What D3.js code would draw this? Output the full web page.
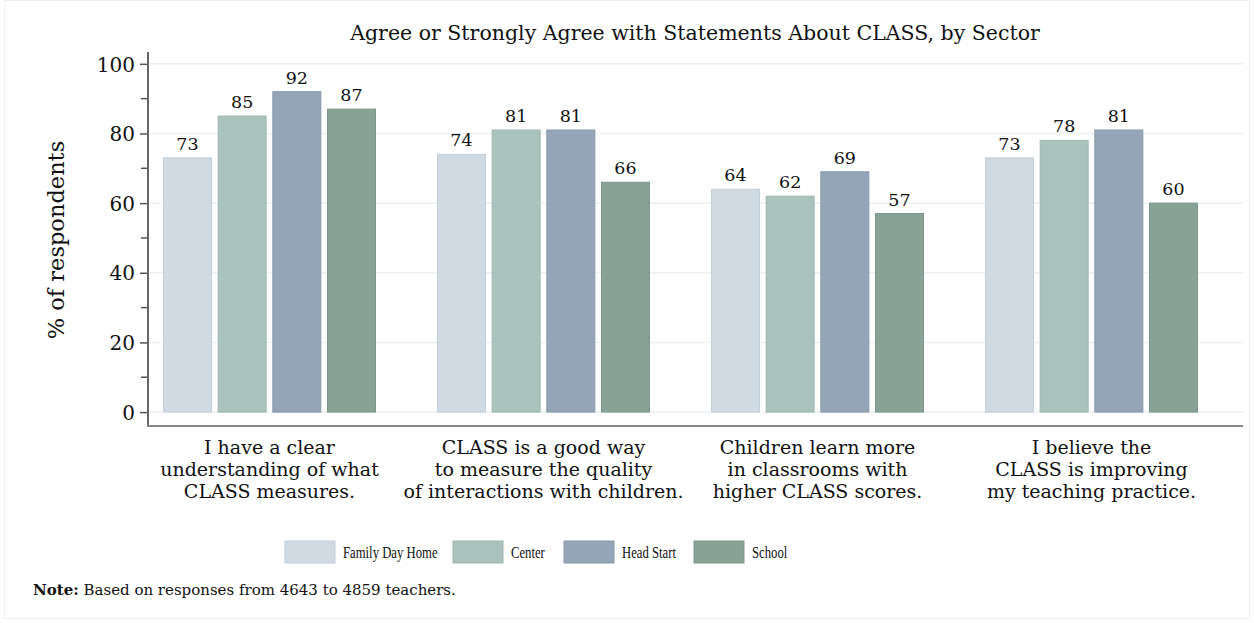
<!DOCTYPE html>
<html>
<head>
<meta charset="utf-8">
<script src="https://cdn.jsdelivr.net/npm/d3@7"></script>
<style>
  body { margin: 0; background: #fff; }
  svg { display: block; font-family: "DejaVu Serif", "Liberation Serif", serif; }
</style>
</head>
<body>
<svg id="chart" width="1254" height="623"></svg>
<script>
const categories = [
  ['I have a clear', 'understanding of what', 'CLASS measures.'],
  ['CLASS is a good way', 'to measure the quality', 'of interactions with children.'],
  ['Children learn more', 'in classrooms with', 'higher CLASS scores.'],
  ['I believe the', 'CLASS is improving', 'my teaching practice.']
];
const sectors = ['Family Day Home', 'Center', 'Head Start', 'School'];
const familyDayHome = [73, 74, 64, 73];
const center = [85, 81, 62, 78];
const headStart = [92, 81, 69, 81];
const school = [87, 66, 57, 60];
const yTicks = [0, 20, 40, 60, 80, 100];
const yMinorTicks = [10, 30, 50, 70, 90];

const series = [familyDayHome, center, headStart, school];
const fills = ['#d0dae3', '#aac2bc', '#93a5b6', '#89a296'];
const strokes = ['#c3cfd9', '#9db8b1', '#8598aa', '#7d978a'];

const svg = d3.select('#chart');

// faint outer frame
svg.append('rect')
  .attr('x', 4.5).attr('y', 0.5)
  .attr('width', 1245).attr('height', 618)
  .attr('fill', 'none').attr('stroke', '#f0f0f0');

const y = d3.scaleLinear().domain([-4, 103.4]).range([426, 52]);
const x = d3.scaleBand().domain(d3.range(categories.length)).range([132.5, 1228.5]);
const xi = d3.scaleBand().domain(d3.range(sectors.length)).range([-106.5, 106.5]).paddingInner(0.104);

// gridlines
svg.append('g')
  .selectAll('line')
  .data(yTicks)
  .join('line')
  .attr('x1', 150).attr('x2', 1243)
  .attr('y1', d => y(d)).attr('y2', d => y(d))
  .attr('stroke', '#eaf0f4').attr('stroke-width', 1.5);

// bars
const groups = svg.append('g')
  .selectAll('g')
  .data(categories)
  .join('g')
  .attr('transform', (d, i) => `translate(${x(i) + x.bandwidth() / 2},0)`);

groups.each(function (cat, ci) {
  const g = d3.select(this);
  const vals = series.map(s => s[ci]);
  g.selectAll('rect')
    .data(vals)
    .join('rect')
    .attr('x', (d, si) => xi(si) + 0.5)
    .attr('width', xi.bandwidth() - 1)
    .attr('y', d => y(d))
    .attr('height', d => y(0) - y(d))
    .attr('fill', (d, si) => fills[si])
    .attr('stroke', (d, si) => strokes[si])
    .attr('stroke-width', 1);

  g.selectAll('text.val')
    .data(vals)
    .join('text')
    .attr('class', 'val')
    .attr('x', (d, si) => xi(si) + xi.bandwidth() / 2)
    .attr('y', d => y(d) - 8)
    .attr('text-anchor', 'middle')
    .attr('font-size', 17.5)
    .attr('fill', '#111')
    .text(d => d);

  g.append('text')
    .attr('text-anchor', 'middle')
    .attr('font-size', 19)
    .attr('fill', '#111')
    .selectAll('tspan')
    .data(cat)
    .join('tspan')
    .attr('x', 0)
    .attr('y', (d, li) => 454 + li * 22)
    .text(d => d);
});

// y axis
const yAxis = d3.axisLeft(y).tickValues(yTicks).tickSize(8).tickPadding(5);
const ya = svg.append('g').attr('transform', 'translate(148,0)').call(yAxis);
ya.select('.domain').remove();
ya.selectAll('.tick line').attr('stroke', '#555').attr('stroke-width', 1.5);
ya.selectAll('.tick text')
  .attr('font-family', '"DejaVu Serif", serif')
  .attr('font-size', 20)
  .attr('fill', '#111')
  .attr('dy', '0.36em');
svg.append('g')
  .selectAll('line')
  .data(yMinorTicks)
  .join('line')
  .attr('x1', 141).attr('x2', 148)
  .attr('y1', d => y(d)).attr('y2', d => y(d))
  .attr('stroke', '#555').attr('stroke-width', 1.5);

// axis lines
svg.append('line')
  .attr('x1', 148).attr('x2', 148).attr('y1', 52).attr('y2', 426.5)
  .attr('stroke', '#666').attr('stroke-width', 2);
svg.append('line')
  .attr('x1', 147).attr('x2', 1243).attr('y1', 426).attr('y2', 426)
  .attr('stroke', '#888').attr('stroke-width', 2);

// y title
svg.append('text')
  .attr('transform', 'translate(64,240) rotate(-90)')
  .attr('text-anchor', 'middle')
  .attr('font-size', 22.5)
  .attr('fill', '#111')
  .text('% of respondents');

// title
svg.append('text')
  .attr('x', 695).attr('y', 40)
  .attr('text-anchor', 'middle')
  .attr('font-size', 20.5)
  .attr('fill', '#111')
  .text('Agree or Strongly Agree with Statements About CLASS, by Sector');

// legend
const legendX = [285, 453, 564, 694];
const legend = svg.append('g')
  .selectAll('g')
  .data(sectors)
  .join('g')
  .attr('transform', (d, i) => `translate(${legendX[i]},541)`);
legend.append('rect')
  .attr('width', 50).attr('height', 22)
  .attr('fill', (d, i) => fills[i])
  .attr('stroke', (d, i) => strokes[i]);
legend.append('text')
  .attr('transform', 'translate(58,17) scale(0.77,1)')
  .attr('font-family', '"Liberation Serif", serif')
  .attr('font-size', 16.5)
  .attr('fill', '#111')
  .text(d => d);

// note
const note = svg.append('text')
  .attr('x', 33).attr('y', 595)
  .attr('font-size', 15)
  .attr('fill', '#111');
note.append('tspan').attr('font-weight', 'bold').text('Note:');
note.append('tspan').text(' Based on responses from 4643 to 4859 teachers.');
</script>
</body>
</html>
